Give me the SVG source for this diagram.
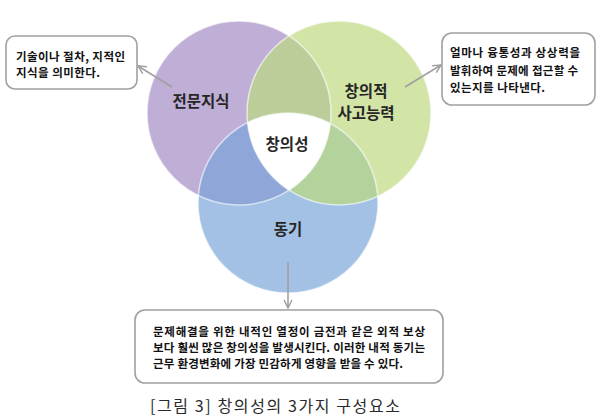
<svg xmlns="http://www.w3.org/2000/svg" width="600" height="419" viewBox="0 0 600 419">
<style>
.lbl{font-family:"Noto Sans CJK KR","Noto Sans",sans-serif;font-weight:bold;font-size:15.5px;fill:#262626;text-anchor:middle;dominant-baseline:central}
.note{font-family:"Noto Sans CJK KR","Noto Sans",sans-serif;font-weight:bold;font-size:11.5px;fill:#111}
.box{fill:#fff;stroke:#a0a0a0;stroke-width:1.6}
.conn{stroke:#a0a0a0;stroke-width:1.6;fill:none}
.cap{font-family:"Noto Sans CJK KR","Noto Sans",sans-serif;font-size:16px;fill:#2a2a2a}
.edge{fill:none;stroke:#fff;stroke-opacity:0.6;stroke-width:1.5}
</style>
<defs>
<clipPath id="cP"><circle cx="239" cy="113" r="92"/></clipPath>
<clipPath id="cG"><circle cx="339" cy="113" r="92"/></clipPath>
<clipPath id="cB"><circle cx="288" cy="203" r="90"/></clipPath>
<marker id="ah" viewBox="0 0 10 10" refX="9" refY="5" markerWidth="10" markerHeight="10" markerUnits="userSpaceOnUse" orient="auto">
<path d="M1,1 L9,5 L1,9" fill="none" stroke="#a0a0a0" stroke-width="1.5"/>
</marker>
</defs>
<rect width="600" height="419" fill="#fff"/>
<g id="venn">
<circle cx="239" cy="113" r="92" fill="#bfaed6"/>
<circle cx="339" cy="113" r="92" fill="#d3e4a7"/>
<circle cx="288" cy="203" r="90" fill="#a3c0e5"/>
<circle cx="339" cy="113" r="92" fill="#bccd99" clip-path="url(#cP)"/>
<circle cx="288" cy="203" r="90" fill="#8ea7d8" clip-path="url(#cP)"/>
<circle cx="288" cy="203" r="90" fill="#b4d39c" clip-path="url(#cG)"/>
<g clip-path="url(#cP)"><circle cx="288" cy="203" r="90" fill="#fff" clip-path="url(#cG)"/></g>
<circle class="edge" cx="239" cy="113" r="92"/>
<circle class="edge" cx="339" cy="113" r="92"/>
<circle class="edge" cx="288" cy="203" r="90"/>
</g>
<g id="n-knowledge"><text class="lbl" x="201" y="100">전문지식</text></g>
<g id="n-thinking"><text class="lbl" x="366" y="90">창의적</text><text class="lbl" x="366" y="112">사고능력</text></g>
<g id="n-creativity"><text class="lbl" x="287" y="143">창의성</text></g>
<g id="n-motivation"><text class="lbl" x="288" y="228">동기</text></g>
<g id="connectors">
<line class="conn" x1="172" y1="87" x2="138" y2="66" marker-end="url(#ah)"/>
<line class="conn" x1="405" y1="87" x2="441" y2="65" marker-end="url(#ah)"/>
<line class="conn" x1="288" y1="262" x2="288" y2="308" marker-end="url(#ah)"/>
</g>
<g id="note-left">
<rect class="box" x="6" y="36" width="131" height="53" rx="9"/>
<text class="note" x="16" y="61" textLength="109" lengthAdjust="spacing">기술이나 절차, 지적인</text>
<text class="note" x="16" y="77" textLength="84" lengthAdjust="spacing">지식을 의미한다.</text>
</g>
<g id="note-right">
<rect class="box" x="442" y="33" width="153" height="72" rx="10"/>
<text class="note" x="450" y="57" textLength="130" lengthAdjust="spacing">얼마나 융통성과 상상력을</text>
<text class="note" x="450" y="75" textLength="128" lengthAdjust="spacing">발휘하여 문제에 접근할 수</text>
<text class="note" x="450" y="92" textLength="95" lengthAdjust="spacing">있는지를 나타낸다.</text>
</g>
<g id="note-bottom">
<rect class="box" x="135" y="310" width="308" height="73" rx="10"/>
<text class="note" x="153" y="336" textLength="272" lengthAdjust="spacing">문제해결을 위한 내적인 열정이 금전과 같은 외적 보상</text>
<text class="note" x="153" y="352" textLength="272" lengthAdjust="spacing">보다 훨씬 많은 창의성을 발생시킨다. 이러한 내적 동기는</text>
<text class="note" x="153" y="368" textLength="250" lengthAdjust="spacing">근무 환경변화에 가장 민감하게 영향을 받을 수 있다.</text>
</g>
<text class="cap" x="150" y="412" textLength="250" lengthAdjust="spacing">[그림 3] 창의성의 3가지 구성요소</text>
</svg>
